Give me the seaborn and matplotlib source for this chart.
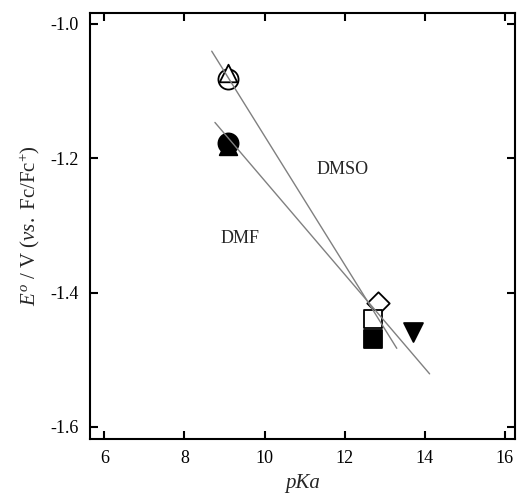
import numpy as np
import pandas as pd
import matplotlib
matplotlib.use('Agg')
import matplotlib.pyplot as plt
import seaborn as sns

# points
pka = [9.09, 9.09, 9.09, 9.09, 12.83, 12.70, 12.70, 13.70]
e0 = [-1.082, -1.074, -1.182, -1.177, -1.415, -1.440, -1.469, -1.458]
shape = ['o', '^', '^', 'o', 'D', 's', 's', 'v']
filled = [False, False, True, True, False, False, True, True]
msize = [210, 160, 160, 210, 130, 150, 150, 185]

# fitted lines (end points)
dmso_x = [8.68, 13.30]
dmso_y = [-1.041, -1.483]
dmf_x = [8.76, 14.12]
dmf_y = [-1.147, -1.521]

df = pd.DataFrame({'pKa': pka, 'E': e0, 'shape': shape, 'filled': filled, 'size': msize})

sns.set_theme(style='ticks')
plt.rcParams['font.family'] = ['Liberation Serif', 'DejaVu Serif']
plt.rcParams['mathtext.fontset'] = 'custom'
plt.rcParams['mathtext.rm'] = 'Liberation Serif'
plt.rcParams['mathtext.it'] = 'Liberation Serif:italic'

fig = plt.figure(figsize=(5.17, 4.95), dpi=100)
ax = fig.add_axes([0.174, 0.113, 0.822, 0.861])

for i, row in df.iterrows():
    fc = 'black' if row['filled'] else 'white'
    sns.scatterplot(x=[row['pKa']], y=[row['E']], marker=row['shape'], s=row['size'],
                    color=fc, edgecolor='black', linewidth=1.3, ax=ax, zorder=3, legend=False)

sns.lineplot(x=dmso_x, y=dmso_y, color='#808080', lw=1.0, ax=ax, zorder=4)
sns.lineplot(x=dmf_x, y=dmf_y, color='#808080', lw=1.0, ax=ax, zorder=4)

ax.text(11.30, -1.217, 'DMSO', fontsize=13, va='center', ha='left')
ax.text(8.90, -1.319, 'DMF', fontsize=13, va='center', ha='left')

ax.set_xlim(5.64, 16.25)
ax.set_ylim(-1.618, -0.984)
ax.set_xticks([6, 8, 10, 12, 14, 16])
ax.set_yticks([-1.0, -1.2, -1.4, -1.6])
ax.set_yticklabels(['-1.0', '-1.2', '-1.4', '-1.6'])
ax.tick_params(direction='in', length=6, width=1.5, top=True, right=True,
               labelsize=13, colors='black', pad=8)
for s in ax.spines.values():
    s.set_linewidth(1.5)
    s.set_color('black')

ax.set_xlabel('pKa', fontsize=15, style='italic', labelpad=5)
ax.set_ylabel(r'$E^{o}$ / V ($vs.$ Fc/Fc$^{+}$)', fontsize=15, labelpad=6)

fig.savefig('out.png', dpi=100)
